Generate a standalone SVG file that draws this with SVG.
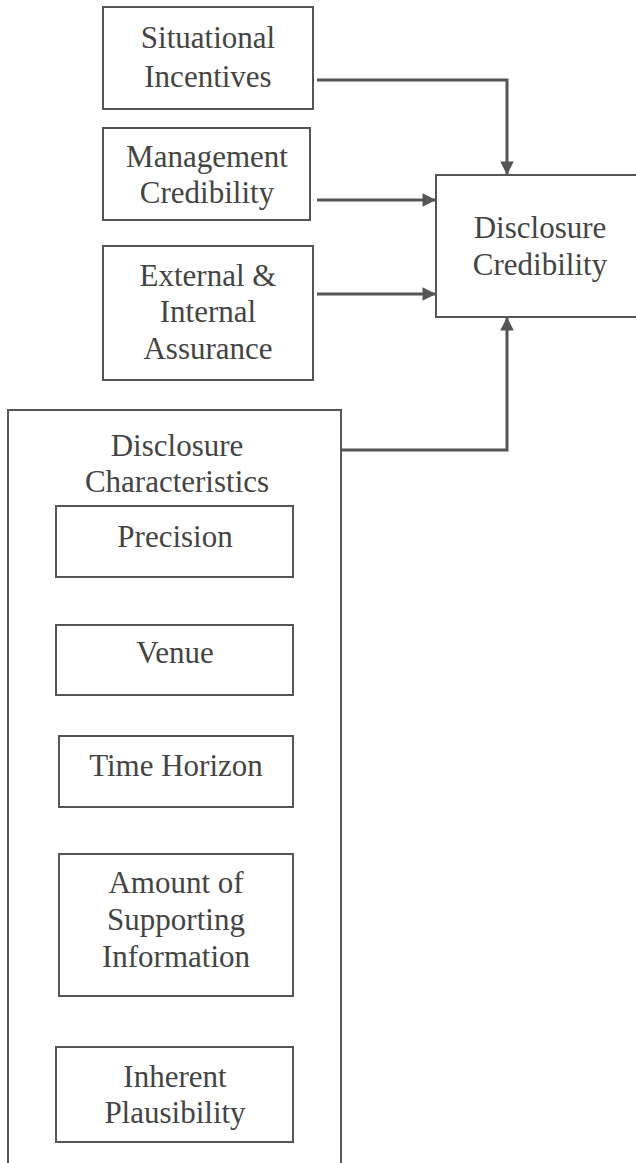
<svg xmlns="http://www.w3.org/2000/svg" width="636" height="1163" viewBox="0 0 636 1163">
<style>
.box{fill:none;stroke:#555;stroke-width:2}
.t{font-family:"Liberation Serif","Times New Roman",serif;font-size:31px;fill:#444;text-anchor:middle}
.c{fill:none;stroke:#555;stroke-width:3}
</style>
<defs>
<marker id="ah" viewBox="0 0 10 10" refX="10" refY="5" markerWidth="5" markerHeight="4.5" orient="auto" markerUnits="strokeWidth">
<path d="M0,0 L10,5 L0,10 Z" fill="#555"/>
</marker>
</defs>
<rect width="636" height="1163" fill="#fff"/>
<g id="situational">
<rect class="box" x="103" y="7" width="210" height="102"/>
<text class="t" x="208" y="48">Situational</text>
<text class="t" x="208" y="87">Incentives</text>
</g>
<g id="management">
<rect class="box" x="103" y="128" width="207" height="92"/>
<text class="t" x="207" y="167">Management</text>
<text class="t" x="207" y="203">Credibility</text>
</g>
<g id="assurance">
<rect class="box" x="103" y="246" width="210" height="134"/>
<text class="t" x="208" y="286">External &amp;</text>
<text class="t" x="208" y="322">Internal</text>
<text class="t" x="208" y="359">Assurance</text>
</g>
<g id="disclosure-credibility">
<rect class="box" x="436" y="175" width="210" height="142"/>
<text class="t" x="540" y="238">Disclosure</text>
<text class="t" x="540" y="275">Credibility</text>
</g>
<g id="disclosure-characteristics">
<rect class="box" x="8" y="410" width="333" height="770"/>
<text class="t" x="177" y="456">Disclosure</text>
<text class="t" x="177" y="492">Characteristics</text>
</g>
<g id="precision">
<rect class="box" x="56" y="506" width="237" height="71"/>
<text class="t" x="175" y="547">Precision</text>
</g>
<g id="venue">
<rect class="box" x="56" y="625" width="237" height="70"/>
<text class="t" x="175" y="663">Venue</text>
</g>
<g id="time-horizon">
<rect class="box" x="59" y="736" width="234" height="71"/>
<text class="t" x="176" y="776">Time Horizon</text>
</g>
<g id="supporting-info">
<rect class="box" x="59" y="854" width="234" height="142"/>
<text class="t" x="176" y="893">Amount of</text>
<text class="t" x="176" y="930">Supporting</text>
<text class="t" x="176" y="967">Information</text>
</g>
<g id="plausibility">
<rect class="box" x="56" y="1047" width="237" height="95"/>
<text class="t" x="175" y="1087">Inherent</text>
<text class="t" x="175" y="1123">Plausibility</text>
</g>
<g id="connectors">
<path class="c" d="M317,80 H507 V175" marker-end="url(#ah)"/>
<path class="c" d="M317,200 H436" marker-end="url(#ah)"/>
<path class="c" d="M317,294 H436" marker-end="url(#ah)"/>
<path class="c" d="M342,450 H507 V317" marker-end="url(#ah)"/>
</g>
</svg>
